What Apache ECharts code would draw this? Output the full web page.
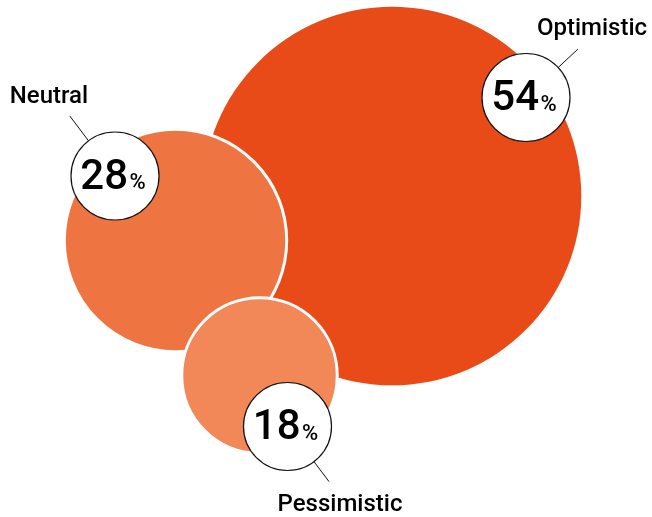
<!DOCTYPE html>
<html><head><meta charset="utf-8">
<script src="https://cdn.jsdelivr.net/npm/echarts@6/dist/echarts.min.js"></script>
<style>html,body{margin:0;padding:0;background:#fff}#c{width:652px;height:517px}</style>
</head><body><div id="c"></div>
<script>
const categories = ['Optimistic', 'Neutral', 'Pessimistic'];
const values = [54, 28, 18];
const percentSign = '%';

// layout (in a 652x517 px frame)
const bubbleCenters = [[392, 196], [175.5, 240.5], [259.5, 375.5]];
const badgeCenters = [[526, 97.5], [115, 176], [287.5, 426.5]];
const leaderAngles = [-43, -127, 53];
const leaderLengths = [27, 31, 25];
const nameCenters = [[592, 29], [49, 97], [340, 505]];
const colors = ['#E84B17', '#EE7441', '#F28757'];
const BADGE_R = 44;

const chart = echarts.init(document.getElementById('c'), null, {renderer: 'canvas'});

function bubbleSize(v) { return 2 * 7.48 * Math.pow(v, 0.81); }

const option = {
  backgroundColor: '#ffffff',
  animation: false,
  grid: {left: 0, right: 0, top: 0, bottom: 0},
  xAxis: {type: 'value', min: 0, max: 652, show: false},
  yAxis: {type: 'value', min: 0, max: 517, inverse: true, show: false},
  series: [
    {
      type: 'scatter',
      clip: false,
      silent: true,
      symbol: 'circle',
      symbolSize: function (val) { return bubbleSize(val[2]); },
      data: categories.map(function (name, i) {
        return {
          name: name,
          value: [bubbleCenters[i][0], bubbleCenters[i][1], values[i]],
          itemStyle: {color: colors[i], borderColor: '#ffffff', borderWidth: i === 0 ? 0 : 3, opacity: 1}
        };
      }),
      z: 2
    },
    {
      type: 'custom',
      clip: false,
      silent: true,
      z: 5,
      data: categories.map(function (name, i) {
        return [badgeCenters[i][0], badgeCenters[i][1], values[i], i];
      }),
      renderItem: function (params, api) {
        const i = api.value(3);
        const c = api.coord([api.value(0), api.value(1)]);
        const a = leaderAngles[i] * Math.PI / 180;
        const r1 = BADGE_R, r2 = BADGE_R + leaderLengths[i];
        const nc = api.coord(nameCenters[i]);
        return {
          type: 'group',
          children: [
            {type: 'line', shape: {x1: c[0] + r1 * Math.cos(a), y1: c[1] + r1 * Math.sin(a), x2: c[0] + r2 * Math.cos(a), y2: c[1] + r2 * Math.sin(a)},
             style: {stroke: '#111', lineWidth: 1}},
            {type: 'circle', shape: {cx: c[0], cy: c[1], r: BADGE_R}, style: {fill: '#ffffff', stroke: '#111', lineWidth: 1.2}},
            {type: 'text', x: c[0] + 13, y: c[1] + 2,
             style: {text: String(api.value(2)), fill: '#000', font: '500 42px Roboto', align: 'right', verticalAlign: 'middle'}},
            {type: 'text', x: c[0] + 14.5, y: c[1] + 7.5,
             style: {text: percentSign, fill: '#000', font: '500 22px Roboto', align: 'left', verticalAlign: 'middle'}},
            {type: 'text', x: nc[0], y: nc[1],
             style: {text: categories[i], fill: '#000', font: '500 24px Roboto', align: 'center', verticalAlign: 'middle'}}
          ]
        };
      }
    }
  ]
};
chart.setOption(option);
</script></body></html>
